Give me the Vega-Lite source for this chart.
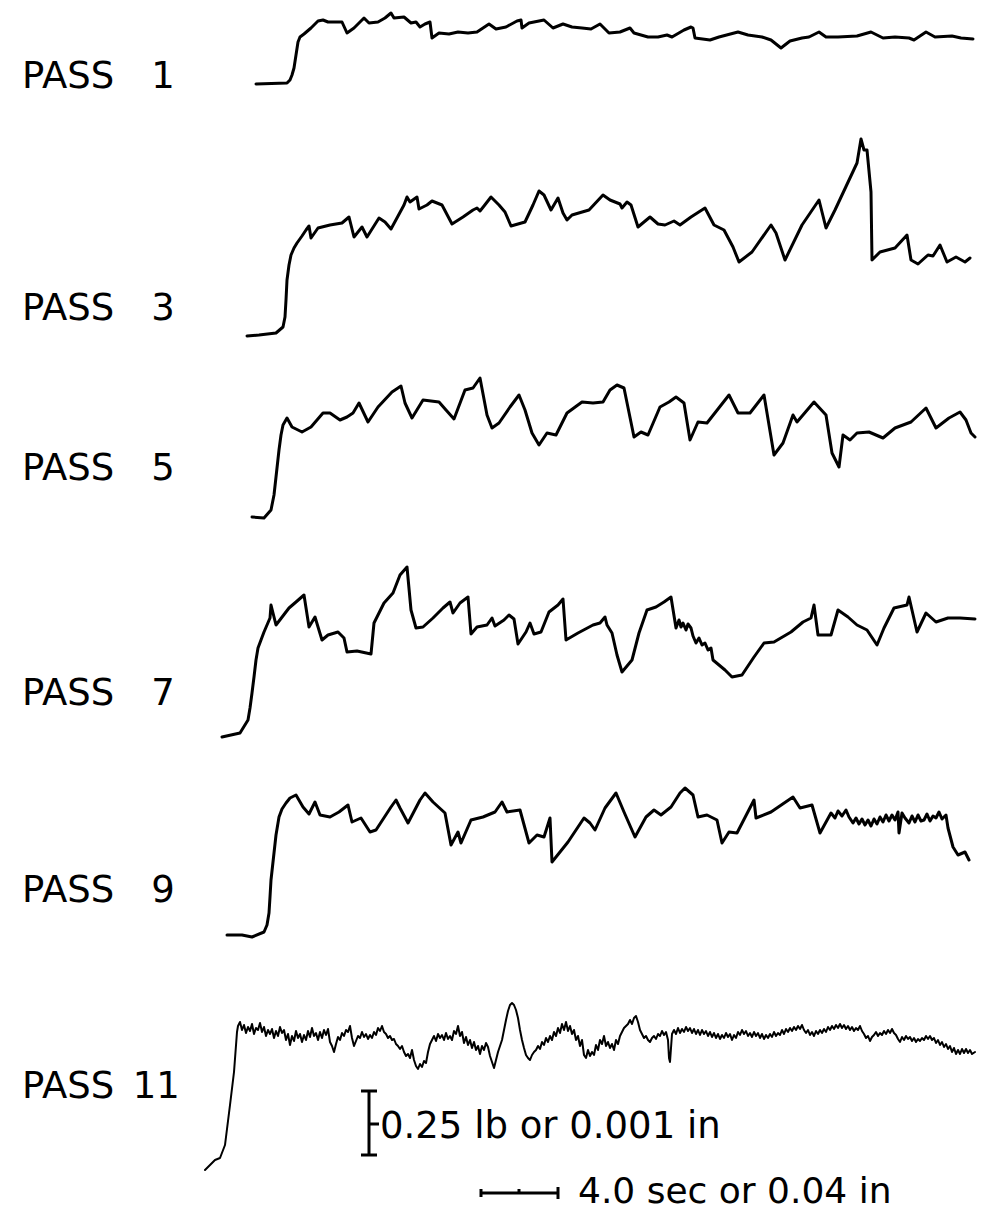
{
"$schema": "https://vega.github.io/schema/vega-lite/v6.json",
"width": 982, "height": 1212,
"autosize": {"type": "fit", "contains": "padding"},
"padding": 0,
"background": "white",
"config": {"view": {"stroke": null}},
"datasets": {
"traces": [
{"p":1,"t":256,"v":84},{"p":1,"t":287,"v":83},{"p":1,"t":290,"v":80},{"p":1,"t":292,"v":75},{"p":1,"t":294,"v":68},{"p":1,"t":296,"v":55},{"p":1,"t":298,"v":42},{"p":1,"t":300,"v":37},{"p":1,"t":304,"v":34},{"p":1,"t":311,"v":28},{"p":1,"t":318,"v":21},{"p":1,"t":323,"v":20},{"p":1,"t":328,"v":22},{"p":1,"t":342,"v":22},{"p":1,"t":347,"v":33},{"p":1,"t":354,"v":28},{"p":1,"t":364,"v":18},{"p":1,"t":369,"v":23},{"p":1,"t":378,"v":22},{"p":1,"t":385,"v":18},{"p":1,"t":391,"v":13},{"p":1,"t":394,"v":18},{"p":1,"t":404,"v":17},{"p":1,"t":411,"v":23},{"p":1,"t":416,"v":22},{"p":1,"t":420,"v":27},{"p":1,"t":425,"v":24},{"p":1,"t":430,"v":22},{"p":1,"t":432,"v":38},{"p":1,"t":439,"v":33},{"p":1,"t":449,"v":34},{"p":1,"t":458,"v":32},{"p":1,"t":468,"v":33},{"p":1,"t":477,"v":32},{"p":1,"t":489,"v":24},{"p":1,"t":496,"v":29},{"p":1,"t":506,"v":27},{"p":1,"t":517,"v":21},{"p":1,"t":521,"v":20},{"p":1,"t":522,"v":28},{"p":1,"t":529,"v":23},{"p":1,"t":544,"v":20},{"p":1,"t":553,"v":28},{"p":1,"t":563,"v":24},{"p":1,"t":572,"v":27},{"p":1,"t":582,"v":28},{"p":1,"t":591,"v":29},{"p":1,"t":600,"v":24},{"p":1,"t":609,"v":33},{"p":1,"t":620,"v":32},{"p":1,"t":630,"v":28},{"p":1,"t":634,"v":33},{"p":1,"t":648,"v":37},{"p":1,"t":658,"v":37},{"p":1,"t":667,"v":35},{"p":1,"t":672,"v":37},{"p":1,"t":684,"v":30},{"p":1,"t":691,"v":27},{"p":1,"t":693,"v":28},{"p":1,"t":695,"v":38},{"p":1,"t":710,"v":40},{"p":1,"t":719,"v":37},{"p":1,"t":738,"v":32},{"p":1,"t":748,"v":35},{"p":1,"t":762,"v":37},{"p":1,"t":771,"v":40},{"p":1,"t":781,"v":48},{"p":1,"t":790,"v":41},{"p":1,"t":802,"v":38},{"p":1,"t":809,"v":37},{"p":1,"t":819,"v":32},{"p":1,"t":826,"v":37},{"p":1,"t":838,"v":37},{"p":1,"t":857,"v":36},{"p":1,"t":871,"v":32},{"p":1,"t":883,"v":38},{"p":1,"t":895,"v":37},{"p":1,"t":909,"v":38},{"p":1,"t":914,"v":40},{"p":1,"t":926,"v":32},{"p":1,"t":935,"v":37},{"p":1,"t":952,"v":36},{"p":1,"t":961,"v":38},{"p":1,"t":973,"v":39},
{"p":3,"t":247,"v":336},{"p":3,"t":259,"v":335},{"p":3,"t":276,"v":333},{"p":3,"t":283,"v":327},{"p":3,"t":285,"v":317},{"p":3,"t":286,"v":300},{"p":3,"t":287,"v":280},{"p":3,"t":289,"v":265},{"p":3,"t":291,"v":255},{"p":3,"t":294,"v":248},{"p":3,"t":297,"v":243},{"p":3,"t":302,"v":236},{"p":3,"t":306,"v":230},{"p":3,"t":309,"v":226},{"p":3,"t":311,"v":238},{"p":3,"t":318,"v":228},{"p":3,"t":330,"v":225},{"p":3,"t":342,"v":223},{"p":3,"t":349,"v":217},{"p":3,"t":354,"v":237},{"p":3,"t":362,"v":227},{"p":3,"t":367,"v":237},{"p":3,"t":379,"v":218},{"p":3,"t":385,"v":222},{"p":3,"t":391,"v":229},{"p":3,"t":404,"v":205},{"p":3,"t":407,"v":197},{"p":3,"t":410,"v":202},{"p":3,"t":417,"v":197},{"p":3,"t":419,"v":209},{"p":3,"t":427,"v":205},{"p":3,"t":432,"v":201},{"p":3,"t":442,"v":205},{"p":3,"t":452,"v":224},{"p":3,"t":463,"v":217},{"p":3,"t":473,"v":210},{"p":3,"t":477,"v":208},{"p":3,"t":480,"v":211},{"p":3,"t":484,"v":206},{"p":3,"t":491,"v":197},{"p":3,"t":499,"v":205},{"p":3,"t":505,"v":212},{"p":3,"t":511,"v":226},{"p":3,"t":525,"v":222},{"p":3,"t":533,"v":205},{"p":3,"t":539,"v":191},{"p":3,"t":544,"v":195},{"p":3,"t":551,"v":210},{"p":3,"t":558,"v":198},{"p":3,"t":563,"v":213},{"p":3,"t":567,"v":220},{"p":3,"t":572,"v":215},{"p":3,"t":589,"v":210},{"p":3,"t":603,"v":195},{"p":3,"t":610,"v":200},{"p":3,"t":620,"v":204},{"p":3,"t":622,"v":208},{"p":3,"t":627,"v":202},{"p":3,"t":631,"v":205},{"p":3,"t":638,"v":227},{"p":3,"t":650,"v":217},{"p":3,"t":658,"v":224},{"p":3,"t":665,"v":225},{"p":3,"t":674,"v":221},{"p":3,"t":680,"v":225},{"p":3,"t":691,"v":217},{"p":3,"t":705,"v":208},{"p":3,"t":714,"v":225},{"p":3,"t":724,"v":230},{"p":3,"t":733,"v":247},{"p":3,"t":739,"v":262},{"p":3,"t":752,"v":252},{"p":3,"t":771,"v":225},{"p":3,"t":776,"v":233},{"p":3,"t":785,"v":260},{"p":3,"t":802,"v":225},{"p":3,"t":819,"v":200},{"p":3,"t":826,"v":228},{"p":3,"t":835,"v":210},{"p":3,"t":857,"v":163},{"p":3,"t":861,"v":139},{"p":3,"t":864,"v":150},{"p":3,"t":867,"v":150},{"p":3,"t":871,"v":192},{"p":3,"t":872,"v":260},{"p":3,"t":880,"v":252},{"p":3,"t":895,"v":248},{"p":3,"t":907,"v":235},{"p":3,"t":911,"v":260},{"p":3,"t":918,"v":264},{"p":3,"t":928,"v":255},{"p":3,"t":933,"v":256},{"p":3,"t":940,"v":245},{"p":3,"t":947,"v":262},{"p":3,"t":956,"v":257},{"p":3,"t":965,"v":262},{"p":3,"t":970,"v":258},
{"p":5,"t":252,"v":517},{"p":5,"t":264,"v":518},{"p":5,"t":271,"v":510},{"p":5,"t":274,"v":495},{"p":5,"t":276,"v":477},{"p":5,"t":279,"v":450},{"p":5,"t":281,"v":435},{"p":5,"t":283,"v":425},{"p":5,"t":287,"v":418},{"p":5,"t":292,"v":427},{"p":5,"t":302,"v":432},{"p":5,"t":311,"v":427},{"p":5,"t":323,"v":413},{"p":5,"t":330,"v":413},{"p":5,"t":340,"v":420},{"p":5,"t":347,"v":417},{"p":5,"t":353,"v":413},{"p":5,"t":359,"v":403},{"p":5,"t":368,"v":422},{"p":5,"t":378,"v":407},{"p":5,"t":392,"v":392},{"p":5,"t":401,"v":386},{"p":5,"t":405,"v":403},{"p":5,"t":412,"v":418},{"p":5,"t":423,"v":400},{"p":5,"t":439,"v":402},{"p":5,"t":446,"v":410},{"p":5,"t":454,"v":419},{"p":5,"t":465,"v":390},{"p":5,"t":473,"v":388},{"p":5,"t":480,"v":378},{"p":5,"t":487,"v":415},{"p":5,"t":492,"v":428},{"p":5,"t":499,"v":423},{"p":5,"t":510,"v":407},{"p":5,"t":519,"v":395},{"p":5,"t":525,"v":410},{"p":5,"t":532,"v":433},{"p":5,"t":539,"v":445},{"p":5,"t":547,"v":433},{"p":5,"t":556,"v":435},{"p":5,"t":567,"v":413},{"p":5,"t":582,"v":402},{"p":5,"t":593,"v":403},{"p":5,"t":603,"v":402},{"p":5,"t":610,"v":390},{"p":5,"t":617,"v":385},{"p":5,"t":624,"v":388},{"p":5,"t":634,"v":437},{"p":5,"t":641,"v":432},{"p":5,"t":648,"v":435},{"p":5,"t":660,"v":407},{"p":5,"t":669,"v":402},{"p":5,"t":676,"v":397},{"p":5,"t":684,"v":403},{"p":5,"t":690,"v":440},{"p":5,"t":698,"v":422},{"p":5,"t":707,"v":423},{"p":5,"t":729,"v":395},{"p":5,"t":738,"v":413},{"p":5,"t":750,"v":413},{"p":5,"t":764,"v":395},{"p":5,"t":774,"v":455},{"p":5,"t":783,"v":443},{"p":5,"t":793,"v":415},{"p":5,"t":797,"v":422},{"p":5,"t":814,"v":402},{"p":5,"t":826,"v":415},{"p":5,"t":832,"v":453},{"p":5,"t":839,"v":467},{"p":5,"t":843,"v":435},{"p":5,"t":850,"v":440},{"p":5,"t":857,"v":433},{"p":5,"t":869,"v":432},{"p":5,"t":883,"v":438},{"p":5,"t":895,"v":428},{"p":5,"t":911,"v":422},{"p":5,"t":926,"v":408},{"p":5,"t":936,"v":428},{"p":5,"t":949,"v":418},{"p":5,"t":960,"v":412},{"p":5,"t":966,"v":420},{"p":5,"t":971,"v":433},{"p":5,"t":975,"v":437},
{"p":7,"t":222,"v":737},{"p":7,"t":240,"v":733},{"p":7,"t":248,"v":720},{"p":7,"t":250,"v":708},{"p":7,"t":252,"v":693},{"p":7,"t":254,"v":677},{"p":7,"t":256,"v":660},{"p":7,"t":258,"v":648},{"p":7,"t":261,"v":640},{"p":7,"t":264,"v":632},{"p":7,"t":267,"v":625},{"p":7,"t":270,"v":618},{"p":7,"t":271,"v":605},{"p":7,"t":276,"v":625},{"p":7,"t":289,"v":608},{"p":7,"t":296,"v":602},{"p":7,"t":304,"v":595},{"p":7,"t":309,"v":627},{"p":7,"t":315,"v":617},{"p":7,"t":322,"v":640},{"p":7,"t":328,"v":635},{"p":7,"t":338,"v":632},{"p":7,"t":344,"v":638},{"p":7,"t":347,"v":652},{"p":7,"t":357,"v":651},{"p":7,"t":371,"v":654},{"p":7,"t":374,"v":623},{"p":7,"t":384,"v":603},{"p":7,"t":393,"v":593},{"p":7,"t":400,"v":575},{"p":7,"t":407,"v":567},{"p":7,"t":411,"v":610},{"p":7,"t":416,"v":628},{"p":7,"t":423,"v":627},{"p":7,"t":433,"v":618},{"p":7,"t":443,"v":608},{"p":7,"t":450,"v":602},{"p":7,"t":453,"v":613},{"p":7,"t":460,"v":603},{"p":7,"t":468,"v":597},{"p":7,"t":471,"v":634},{"p":7,"t":477,"v":627},{"p":7,"t":487,"v":625},{"p":7,"t":492,"v":618},{"p":7,"t":495,"v":626},{"p":7,"t":504,"v":620},{"p":7,"t":509,"v":615},{"p":7,"t":514,"v":619},{"p":7,"t":518,"v":644},{"p":7,"t":526,"v":632},{"p":7,"t":530,"v":623},{"p":7,"t":534,"v":634},{"p":7,"t":541,"v":632},{"p":7,"t":549,"v":612},{"p":7,"t":558,"v":605},{"p":7,"t":563,"v":599},{"p":7,"t":566,"v":640},{"p":7,"t":578,"v":633},{"p":7,"t":593,"v":625},{"p":7,"t":600,"v":623},{"p":7,"t":605,"v":617},{"p":7,"t":607,"v":625},{"p":7,"t":612,"v":633},{"p":7,"t":617,"v":655},{"p":7,"t":622,"v":672},{"p":7,"t":632,"v":660},{"p":7,"t":639,"v":633},{"p":7,"t":647,"v":610},{"p":7,"t":656,"v":607},{"p":7,"t":664,"v":602},{"p":7,"t":671,"v":597},{"p":7,"t":676,"v":628},{"p":7,"t":679,"v":620},{"p":7,"t":681,"v":627},{"p":7,"t":683,"v":623},{"p":7,"t":686,"v":630},{"p":7,"t":688,"v":624},{"p":7,"t":691,"v":628},{"p":7,"t":693,"v":636},{"p":7,"t":696,"v":643},{"p":7,"t":699,"v":638},{"p":7,"t":702,"v":645},{"p":7,"t":705,"v":643},{"p":7,"t":708,"v":650},{"p":7,"t":711,"v":648},{"p":7,"t":713,"v":660},{"p":7,"t":725,"v":670},{"p":7,"t":732,"v":677},{"p":7,"t":742,"v":675},{"p":7,"t":754,"v":657},{"p":7,"t":764,"v":643},{"p":7,"t":774,"v":642},{"p":7,"t":791,"v":632},{"p":7,"t":803,"v":622},{"p":7,"t":811,"v":618},{"p":7,"t":814,"v":605},{"p":7,"t":818,"v":635},{"p":7,"t":831,"v":635},{"p":7,"t":838,"v":610},{"p":7,"t":848,"v":617},{"p":7,"t":857,"v":625},{"p":7,"t":867,"v":630},{"p":7,"t":877,"v":645},{"p":7,"t":884,"v":628},{"p":7,"t":894,"v":608},{"p":7,"t":907,"v":605},{"p":7,"t":909,"v":597},{"p":7,"t":917,"v":632},{"p":7,"t":926,"v":613},{"p":7,"t":936,"v":622},{"p":7,"t":948,"v":618},{"p":7,"t":960,"v":618},{"p":7,"t":975,"v":619},
{"p":9,"t":227,"v":935},{"p":9,"t":242,"v":935},{"p":9,"t":252,"v":937},{"p":9,"t":264,"v":932},{"p":9,"t":267,"v":925},{"p":9,"t":269,"v":913},{"p":9,"t":270,"v":897},{"p":9,"t":271,"v":880},{"p":9,"t":274,"v":853},{"p":9,"t":276,"v":835},{"p":9,"t":279,"v":817},{"p":9,"t":282,"v":809},{"p":9,"t":286,"v":803},{"p":9,"t":290,"v":798},{"p":9,"t":296,"v":795},{"p":9,"t":303,"v":807},{"p":9,"t":309,"v":814},{"p":9,"t":315,"v":802},{"p":9,"t":320,"v":815},{"p":9,"t":330,"v":817},{"p":9,"t":339,"v":812},{"p":9,"t":348,"v":805},{"p":9,"t":352,"v":822},{"p":9,"t":361,"v":818},{"p":9,"t":370,"v":832},{"p":9,"t":376,"v":830},{"p":9,"t":391,"v":807},{"p":9,"t":396,"v":800},{"p":9,"t":400,"v":808},{"p":9,"t":408,"v":823},{"p":9,"t":420,"v":800},{"p":9,"t":425,"v":793},{"p":9,"t":433,"v":802},{"p":9,"t":445,"v":813},{"p":9,"t":451,"v":845},{"p":9,"t":458,"v":832},{"p":9,"t":461,"v":843},{"p":9,"t":471,"v":820},{"p":9,"t":483,"v":817},{"p":9,"t":495,"v":812},{"p":9,"t":502,"v":802},{"p":9,"t":507,"v":812},{"p":9,"t":520,"v":810},{"p":9,"t":529,"v":843},{"p":9,"t":537,"v":835},{"p":9,"t":544,"v":837},{"p":9,"t":550,"v":818},{"p":9,"t":552,"v":862},{"p":9,"t":568,"v":842},{"p":9,"t":584,"v":818},{"p":9,"t":590,"v":823},{"p":9,"t":595,"v":830},{"p":9,"t":605,"v":808},{"p":9,"t":616,"v":793},{"p":9,"t":624,"v":812},{"p":9,"t":635,"v":837},{"p":9,"t":646,"v":817},{"p":9,"t":654,"v":810},{"p":9,"t":661,"v":815},{"p":9,"t":671,"v":807},{"p":9,"t":680,"v":793},{"p":9,"t":685,"v":788},{"p":9,"t":693,"v":795},{"p":9,"t":698,"v":817},{"p":9,"t":707,"v":815},{"p":9,"t":717,"v":820},{"p":9,"t":722,"v":843},{"p":9,"t":729,"v":832},{"p":9,"t":737,"v":833},{"p":9,"t":754,"v":800},{"p":9,"t":756,"v":818},{"p":9,"t":771,"v":812},{"p":9,"t":793,"v":797},{"p":9,"t":800,"v":808},{"p":9,"t":812,"v":805},{"p":9,"t":820,"v":833},{"p":9,"t":831,"v":813},{"p":9,"t":835,"v":818},{"p":9,"t":838,"v":811},{"p":9,"t":842,"v":816},{"p":9,"t":846,"v":810},{"p":9,"t":849,"v":817},{"p":9,"t":853,"v":823},{"p":9,"t":856,"v":818},{"p":9,"t":859,"v":824},{"p":9,"t":862,"v":819},{"p":9,"t":865,"v":825},{"p":9,"t":868,"v":820},{"p":9,"t":871,"v":826},{"p":9,"t":874,"v":819},{"p":9,"t":877,"v":824},{"p":9,"t":880,"v":817},{"p":9,"t":883,"v":822},{"p":9,"t":886,"v":815},{"p":9,"t":889,"v":821},{"p":9,"t":892,"v":815},{"p":9,"t":895,"v":820},{"p":9,"t":898,"v":812},{"p":9,"t":899,"v":833},{"p":9,"t":902,"v":813},{"p":9,"t":905,"v":818},{"p":9,"t":909,"v":823},{"p":9,"t":912,"v":816},{"p":9,"t":915,"v":822},{"p":9,"t":918,"v":815},{"p":9,"t":921,"v":821},{"p":9,"t":924,"v":820},{"p":9,"t":927,"v":814},{"p":9,"t":930,"v":821},{"p":9,"t":933,"v":816},{"p":9,"t":936,"v":818},{"p":9,"t":939,"v":812},{"p":9,"t":942,"v":819},{"p":9,"t":946,"v":815},{"p":9,"t":948,"v":828},{"p":9,"t":953,"v":847},{"p":9,"t":958,"v":855},{"p":9,"t":965,"v":852},{"p":9,"t":969,"v":860},
{"p":11,"t":205,"v":1170},{"p":11,"t":210,"v":1165},{"p":11,"t":215,"v":1160},{"p":11,"t":220,"v":1158},{"p":11,"t":225,"v":1145},{"p":11,"t":230,"v":1105},{"p":11,"t":234,"v":1072},{"p":11,"t":237,"v":1032},{"p":11,"t":238,"v":1026},{"p":11,"t":240,"v":1022},{"p":11,"t":242,"v":1030},{"p":11,"t":244,"v":1025},{"p":11,"t":246,"v":1033},{"p":11,"t":248,"v":1027},{"p":11,"t":250,"v":1031},{"p":11,"t":252,"v":1024},{"p":11,"t":254,"v":1034},{"p":11,"t":256,"v":1028},{"p":11,"t":258,"v":1030},{"p":11,"t":260,"v":1023},{"p":11,"t":262,"v":1032},{"p":11,"t":264,"v":1027},{"p":11,"t":266,"v":1036},{"p":11,"t":268,"v":1030},{"p":11,"t":270,"v":1034},{"p":11,"t":272,"v":1029},{"p":11,"t":274,"v":1038},{"p":11,"t":276,"v":1031},{"p":11,"t":278,"v":1036},{"p":11,"t":280,"v":1027},{"p":11,"t":282,"v":1033},{"p":11,"t":284,"v":1030},{"p":11,"t":286,"v":1040},{"p":11,"t":288,"v":1034},{"p":11,"t":290,"v":1045},{"p":11,"t":292,"v":1036},{"p":11,"t":294,"v":1041},{"p":11,"t":296,"v":1031},{"p":11,"t":298,"v":1038},{"p":11,"t":300,"v":1034},{"p":11,"t":302,"v":1042},{"p":11,"t":304,"v":1035},{"p":11,"t":306,"v":1040},{"p":11,"t":308,"v":1031},{"p":11,"t":310,"v":1037},{"p":11,"t":312,"v":1028},{"p":11,"t":314,"v":1036},{"p":11,"t":316,"v":1033},{"p":11,"t":318,"v":1040},{"p":11,"t":320,"v":1032},{"p":11,"t":322,"v":1038},{"p":11,"t":324,"v":1030},{"p":11,"t":326,"v":1035},{"p":11,"t":328,"v":1029},{"p":11,"t":330,"v":1042},{"p":11,"t":332,"v":1046},{"p":11,"t":334,"v":1052},{"p":11,"t":336,"v":1044},{"p":11,"t":338,"v":1037},{"p":11,"t":340,"v":1040},{"p":11,"t":342,"v":1033},{"p":11,"t":344,"v":1036},{"p":11,"t":346,"v":1030},{"p":11,"t":348,"v":1032},{"p":11,"t":350,"v":1026},{"p":11,"t":352,"v":1038},{"p":11,"t":354,"v":1046},{"p":11,"t":356,"v":1041},{"p":11,"t":358,"v":1036},{"p":11,"t":360,"v":1038},{"p":11,"t":362,"v":1032},{"p":11,"t":364,"v":1037},{"p":11,"t":366,"v":1034},{"p":11,"t":368,"v":1039},{"p":11,"t":370,"v":1035},{"p":11,"t":372,"v":1038},{"p":11,"t":374,"v":1032},{"p":11,"t":376,"v":1035},{"p":11,"t":378,"v":1028},{"p":11,"t":380,"v":1031},{"p":11,"t":382,"v":1026},{"p":11,"t":384,"v":1032},{"p":11,"t":386,"v":1034},{"p":11,"t":388,"v":1038},{"p":11,"t":390,"v":1036},{"p":11,"t":392,"v":1040},{"p":11,"t":394,"v":1039},{"p":11,"t":396,"v":1044},{"p":11,"t":398,"v":1046},{"p":11,"t":400,"v":1049},{"p":11,"t":402,"v":1046},{"p":11,"t":404,"v":1052},{"p":11,"t":406,"v":1056},{"p":11,"t":408,"v":1054},{"p":11,"t":410,"v":1058},{"p":11,"t":412,"v":1050},{"p":11,"t":414,"v":1060},{"p":11,"t":416,"v":1066},{"p":11,"t":418,"v":1069},{"p":11,"t":420,"v":1064},{"p":11,"t":422,"v":1067},{"p":11,"t":424,"v":1061},{"p":11,"t":426,"v":1063},{"p":11,"t":428,"v":1052},{"p":11,"t":430,"v":1044},{"p":11,"t":432,"v":1040},{"p":11,"t":434,"v":1036},{"p":11,"t":436,"v":1041},{"p":11,"t":438,"v":1034},{"p":11,"t":440,"v":1038},{"p":11,"t":442,"v":1035},{"p":11,"t":444,"v":1040},{"p":11,"t":446,"v":1033},{"p":11,"t":448,"v":1039},{"p":11,"t":450,"v":1036},{"p":11,"t":452,"v":1040},{"p":11,"t":454,"v":1031},{"p":11,"t":456,"v":1034},{"p":11,"t":458,"v":1026},{"p":11,"t":460,"v":1036},{"p":11,"t":462,"v":1032},{"p":11,"t":464,"v":1043},{"p":11,"t":466,"v":1037},{"p":11,"t":468,"v":1045},{"p":11,"t":470,"v":1040},{"p":11,"t":472,"v":1048},{"p":11,"t":474,"v":1042},{"p":11,"t":476,"v":1050},{"p":11,"t":478,"v":1046},{"p":11,"t":480,"v":1054},{"p":11,"t":482,"v":1046},{"p":11,"t":484,"v":1050},{"p":11,"t":486,"v":1043},{"p":11,"t":488,"v":1047},{"p":11,"t":490,"v":1056},{"p":11,"t":492,"v":1062},{"p":11,"t":494,"v":1068},{"p":11,"t":496,"v":1060},{"p":11,"t":498,"v":1052},{"p":11,"t":500,"v":1046},{"p":11,"t":502,"v":1040},{"p":11,"t":504,"v":1030},{"p":11,"t":506,"v":1020},{"p":11,"t":508,"v":1011},{"p":11,"t":510,"v":1005},{"p":11,"t":512,"v":1003},{"p":11,"t":514,"v":1005},{"p":11,"t":516,"v":1010},{"p":11,"t":518,"v":1018},{"p":11,"t":520,"v":1030},{"p":11,"t":522,"v":1040},{"p":11,"t":524,"v":1048},{"p":11,"t":526,"v":1055},{"p":11,"t":528,"v":1058},{"p":11,"t":530,"v":1060},{"p":11,"t":532,"v":1055},{"p":11,"t":534,"v":1052},{"p":11,"t":536,"v":1050},{"p":11,"t":538,"v":1046},{"p":11,"t":540,"v":1049},{"p":11,"t":542,"v":1042},{"p":11,"t":544,"v":1045},{"p":11,"t":546,"v":1038},{"p":11,"t":548,"v":1042},{"p":11,"t":550,"v":1036},{"p":11,"t":552,"v":1040},{"p":11,"t":554,"v":1032},{"p":11,"t":556,"v":1036},{"p":11,"t":558,"v":1028},{"p":11,"t":560,"v":1033},{"p":11,"t":562,"v":1024},{"p":11,"t":564,"v":1030},{"p":11,"t":566,"v":1022},{"p":11,"t":568,"v":1031},{"p":11,"t":570,"v":1026},{"p":11,"t":572,"v":1034},{"p":11,"t":574,"v":1030},{"p":11,"t":576,"v":1040},{"p":11,"t":578,"v":1036},{"p":11,"t":580,"v":1046},{"p":11,"t":582,"v":1040},{"p":11,"t":584,"v":1055},{"p":11,"t":586,"v":1058},{"p":11,"t":588,"v":1050},{"p":11,"t":590,"v":1056},{"p":11,"t":592,"v":1052},{"p":11,"t":594,"v":1055},{"p":11,"t":596,"v":1045},{"p":11,"t":598,"v":1050},{"p":11,"t":600,"v":1040},{"p":11,"t":602,"v":1044},{"p":11,"t":604,"v":1036},{"p":11,"t":606,"v":1046},{"p":11,"t":608,"v":1042},{"p":11,"t":610,"v":1048},{"p":11,"t":612,"v":1044},{"p":11,"t":614,"v":1050},{"p":11,"t":616,"v":1040},{"p":11,"t":618,"v":1044},{"p":11,"t":620,"v":1036},{"p":11,"t":622,"v":1032},{"p":11,"t":624,"v":1028},{"p":11,"t":626,"v":1026},{"p":11,"t":628,"v":1024},{"p":11,"t":630,"v":1020},{"p":11,"t":632,"v":1024},{"p":11,"t":634,"v":1018},{"p":11,"t":636,"v":1016},{"p":11,"t":638,"v":1022},{"p":11,"t":640,"v":1030},{"p":11,"t":642,"v":1034},{"p":11,"t":644,"v":1038},{"p":11,"t":646,"v":1036},{"p":11,"t":648,"v":1040},{"p":11,"t":650,"v":1042},{"p":11,"t":652,"v":1038},{"p":11,"t":654,"v":1036},{"p":11,"t":656,"v":1039},{"p":11,"t":658,"v":1034},{"p":11,"t":660,"v":1036},{"p":11,"t":662,"v":1031},{"p":11,"t":664,"v":1035},{"p":11,"t":666,"v":1032},{"p":11,"t":668,"v":1040},{"p":11,"t":669,"v":1058},{"p":11,"t":670,"v":1062},{"p":11,"t":671,"v":1048},{"p":11,"t":672,"v":1034},{"p":11,"t":674,"v":1030},{"p":11,"t":676,"v":1034},{"p":11,"t":678,"v":1028},{"p":11,"t":680,"v":1033},{"p":11,"t":682,"v":1029},{"p":11,"t":684,"v":1032},{"p":11,"t":686,"v":1027},{"p":11,"t":688,"v":1031},{"p":11,"t":690,"v":1028},{"p":11,"t":692,"v":1033},{"p":11,"t":694,"v":1029},{"p":11,"t":696,"v":1034},{"p":11,"t":698,"v":1030},{"p":11,"t":700,"v":1035},{"p":11,"t":702,"v":1030},{"p":11,"t":704,"v":1034},{"p":11,"t":706,"v":1031},{"p":11,"t":708,"v":1036},{"p":11,"t":710,"v":1032},{"p":11,"t":712,"v":1037},{"p":11,"t":714,"v":1033},{"p":11,"t":716,"v":1038},{"p":11,"t":718,"v":1034},{"p":11,"t":720,"v":1039},{"p":11,"t":722,"v":1035},{"p":11,"t":724,"v":1038},{"p":11,"t":726,"v":1033},{"p":11,"t":728,"v":1037},{"p":11,"t":730,"v":1034},{"p":11,"t":732,"v":1040},{"p":11,"t":734,"v":1035},{"p":11,"t":736,"v":1038},{"p":11,"t":738,"v":1032},{"p":11,"t":740,"v":1035},{"p":11,"t":742,"v":1030},{"p":11,"t":744,"v":1034},{"p":11,"t":746,"v":1031},{"p":11,"t":748,"v":1036},{"p":11,"t":750,"v":1033},{"p":11,"t":752,"v":1037},{"p":11,"t":754,"v":1032},{"p":11,"t":756,"v":1036},{"p":11,"t":758,"v":1033},{"p":11,"t":760,"v":1038},{"p":11,"t":762,"v":1034},{"p":11,"t":764,"v":1039},{"p":11,"t":766,"v":1035},{"p":11,"t":768,"v":1038},{"p":11,"t":770,"v":1034},{"p":11,"t":772,"v":1037},{"p":11,"t":774,"v":1032},{"p":11,"t":776,"v":1036},{"p":11,"t":778,"v":1033},{"p":11,"t":780,"v":1035},{"p":11,"t":782,"v":1030},{"p":11,"t":784,"v":1034},{"p":11,"t":786,"v":1029},{"p":11,"t":788,"v":1032},{"p":11,"t":790,"v":1028},{"p":11,"t":792,"v":1031},{"p":11,"t":794,"v":1027},{"p":11,"t":796,"v":1030},{"p":11,"t":798,"v":1026},{"p":11,"t":800,"v":1029},{"p":11,"t":802,"v":1025},{"p":11,"t":804,"v":1030},{"p":11,"t":806,"v":1033},{"p":11,"t":808,"v":1030},{"p":11,"t":810,"v":1035},{"p":11,"t":812,"v":1032},{"p":11,"t":814,"v":1036},{"p":11,"t":816,"v":1031},{"p":11,"t":818,"v":1034},{"p":11,"t":820,"v":1030},{"p":11,"t":822,"v":1033},{"p":11,"t":824,"v":1029},{"p":11,"t":826,"v":1032},{"p":11,"t":828,"v":1027},{"p":11,"t":830,"v":1030},{"p":11,"t":832,"v":1026},{"p":11,"t":834,"v":1029},{"p":11,"t":836,"v":1025},{"p":11,"t":838,"v":1028},{"p":11,"t":840,"v":1024},{"p":11,"t":842,"v":1028},{"p":11,"t":844,"v":1025},{"p":11,"t":846,"v":1029},{"p":11,"t":848,"v":1026},{"p":11,"t":850,"v":1030},{"p":11,"t":852,"v":1027},{"p":11,"t":854,"v":1031},{"p":11,"t":856,"v":1028},{"p":11,"t":858,"v":1030},{"p":11,"t":860,"v":1026},{"p":11,"t":862,"v":1031},{"p":11,"t":864,"v":1034},{"p":11,"t":866,"v":1038},{"p":11,"t":868,"v":1036},{"p":11,"t":870,"v":1041},{"p":11,"t":872,"v":1037},{"p":11,"t":874,"v":1035},{"p":11,"t":876,"v":1032},{"p":11,"t":878,"v":1036},{"p":11,"t":880,"v":1033},{"p":11,"t":882,"v":1035},{"p":11,"t":884,"v":1031},{"p":11,"t":886,"v":1034},{"p":11,"t":888,"v":1030},{"p":11,"t":890,"v":1033},{"p":11,"t":892,"v":1029},{"p":11,"t":894,"v":1033},{"p":11,"t":896,"v":1035},{"p":11,"t":898,"v":1039},{"p":11,"t":900,"v":1042},{"p":11,"t":902,"v":1037},{"p":11,"t":904,"v":1040},{"p":11,"t":906,"v":1036},{"p":11,"t":908,"v":1039},{"p":11,"t":910,"v":1037},{"p":11,"t":912,"v":1041},{"p":11,"t":914,"v":1038},{"p":11,"t":916,"v":1042},{"p":11,"t":918,"v":1039},{"p":11,"t":920,"v":1041},{"p":11,"t":922,"v":1038},{"p":11,"t":924,"v":1040},{"p":11,"t":926,"v":1036},{"p":11,"t":928,"v":1039},{"p":11,"t":930,"v":1036},{"p":11,"t":932,"v":1040},{"p":11,"t":934,"v":1038},{"p":11,"t":936,"v":1043},{"p":11,"t":938,"v":1040},{"p":11,"t":940,"v":1045},{"p":11,"t":942,"v":1042},{"p":11,"t":944,"v":1047},{"p":11,"t":946,"v":1044},{"p":11,"t":948,"v":1049},{"p":11,"t":950,"v":1046},{"p":11,"t":952,"v":1052},{"p":11,"t":954,"v":1048},{"p":11,"t":956,"v":1054},{"p":11,"t":958,"v":1050},{"p":11,"t":960,"v":1054},{"p":11,"t":962,"v":1049},{"p":11,"t":964,"v":1053},{"p":11,"t":966,"v":1049},{"p":11,"t":968,"v":1053},{"p":11,"t":970,"v":1050},{"p":11,"t":972,"v":1054},{"p":11,"t":975,"v":1052}
],
"bars": [
{"t":369,"t2":369,"v":1091,"v2":1155},
{"t":361,"t2":377,"v":1091,"v2":1091},
{"t":361,"t2":377,"v":1155,"v2":1155},
{"t":369,"t2":379,"v":1124,"v2":1124},
{"t":480,"t2":558,"v":1193,"v2":1193},
{"t":481,"t2":481,"v":1189,"v2":1197},
{"t":558,"t2":558,"v":1187,"v2":1199},
{"t":519,"t2":519,"v":1189,"v2":1193}
],
"labels": [
{"txt":"PASS\u20031","t":22,"v":88},
{"txt":"PASS\u20033","t":22,"v":320},
{"txt":"PASS\u20035","t":22,"v":480},
{"txt":"PASS\u20037","t":22,"v":705},
{"txt":"PASS\u20039","t":22,"v":902},
{"txt":"PASS\u200211","t":22,"v":1098}
]
},
"layer": [
{
"data": {"name": "traces"},
"transform": [{"filter": "datum.p != 11"}],
"mark": {"type": "line", "color": "black", "strokeWidth": 3, "strokeJoin": "round", "strokeCap": "round"},
"encoding": {
"x": {"field": "t", "type": "quantitative", "scale": {"domain": [0, 982], "nice": false, "zero": false}, "axis": null},
"y": {"field": "v", "type": "quantitative", "scale": {"domain": [0, 1212], "reverse": true, "nice": false, "zero": false}, "axis": null},
"detail": {"field": "p", "type": "nominal"}
}
},
{
"data": {"name": "traces"},
"transform": [{"filter": "datum.p == 11"}],
"mark": {"type": "line", "color": "black", "strokeWidth": 2, "strokeJoin": "round", "strokeCap": "round"},
"encoding": {
"x": {"field": "t", "type": "quantitative", "scale": {"domain": [0, 982], "nice": false, "zero": false}, "axis": null},
"y": {"field": "v", "type": "quantitative", "scale": {"domain": [0, 1212], "reverse": true, "nice": false, "zero": false}, "axis": null},
"detail": {"field": "p", "type": "nominal"}
}
},
{
"data": {"name": "bars"},
"mark": {"type": "rule", "color": "black", "strokeWidth": 3},
"encoding": {
"x": {"field": "t", "type": "quantitative", "scale": {"domain": [0, 982], "nice": false, "zero": false}, "axis": null},
"x2": {"field": "t2"},
"y": {"field": "v", "type": "quantitative", "scale": {"domain": [0, 1212], "reverse": true, "nice": false, "zero": false}, "axis": null},
"y2": {"field": "v2"}
}
},
{
"data": {"name": "labels"},
"mark": {"type": "text", "align": "left", "baseline": "alphabetic", "font": "DejaVu Sans", "fontSize": 37, "color": "black"},
"encoding": {
"x": {"field": "t", "type": "quantitative", "scale": {"domain": [0, 982], "nice": false, "zero": false}, "axis": null},
"y": {"field": "v", "type": "quantitative", "scale": {"domain": [0, 1212], "reverse": true, "nice": false, "zero": false}, "axis": null},
"text": {"field": "txt"}
}
},
{
"data": {"values": [{"txt": "0.25 lb or 0.001 in", "t": 380, "v": 1138}]},
"mark": {"type": "text", "align": "left", "baseline": "alphabetic", "font": "DejaVu Sans", "fontSize": 37, "color": "black"},
"encoding": {
"x": {"field": "t", "type": "quantitative", "scale": {"domain": [0, 982], "nice": false, "zero": false}, "axis": null},
"y": {"field": "v", "type": "quantitative", "scale": {"domain": [0, 1212], "reverse": true, "nice": false, "zero": false}, "axis": null},
"text": {"field": "txt"}
}
},
{
"data": {"values": [{"txt": "4.0 sec or 0.04 in", "t": 578, "v": 1203}]},
"mark": {"type": "text", "align": "left", "baseline": "alphabetic", "font": "DejaVu Sans", "fontSize": 36, "color": "black"},
"encoding": {
"x": {"field": "t", "type": "quantitative", "scale": {"domain": [0, 982], "nice": false, "zero": false}, "axis": null},
"y": {"field": "v", "type": "quantitative", "scale": {"domain": [0, 1212], "reverse": true, "nice": false, "zero": false}, "axis": null},
"text": {"field": "txt"}
}
}
]
}
